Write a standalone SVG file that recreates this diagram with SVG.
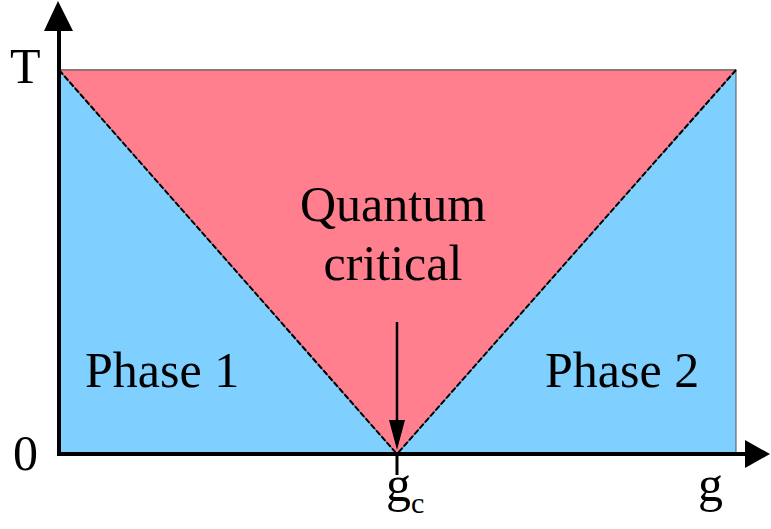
<svg xmlns="http://www.w3.org/2000/svg" width="771" height="529" viewBox="0 0 771 529">
<style>
text{font-size:50px;fill:#000;font-family:'Liberation Serif',serif}
.ax{stroke:#000;stroke-width:4;fill:none}
.diag{stroke:#000;stroke-width:2;stroke-dasharray:6,2;fill:none}
</style>
<g id="phase1">
<rect x="59" y="70" width="677" height="384" fill="#7fcfff" stroke="#555" stroke-width="1"/>
<text x="85" y="387">Phase 1</text>
</g>
<g id="critical">
<polygon points="59,70 736,70 397,454" fill="#ff7f8e" stroke="#555" stroke-width="1"/>
<text x="393" y="221" text-anchor="middle">Quantum</text>
<text x="393" y="280" text-anchor="middle">critical</text>
</g>
<g id="phase2">
<text x="545" y="387">Phase 2</text>
</g>
<g id="connectors">
<line class="diag" x1="59" y1="70" x2="397" y2="454"/>
<line class="diag" x1="736" y1="70" x2="397" y2="454"/>
<line class="ax" x1="59" y1="456" x2="59" y2="28"/>
<polygon points="58,1 44,31 73,31" fill="#000"/>
<line class="ax" x1="57" y1="454" x2="746" y2="454"/>
<polygon points="770,454 745,440 745,468" fill="#000"/>
<line x1="397" y1="454" x2="397" y2="475" stroke="#000" stroke-width="3"/>
<line x1="397" y1="322" x2="397" y2="420" stroke="#000" stroke-width="2.5"/>
<polygon points="397,450 389,420 405,420" fill="#000"/>
</g>
<g id="labels">
<text x="10" y="83">T</text>
<text x="13" y="470">0</text>
<text x="386" y="501">g<tspan font-size="30" dy="12">c</tspan></text>
<text x="698" y="501">g</text>
</g>
</svg>
